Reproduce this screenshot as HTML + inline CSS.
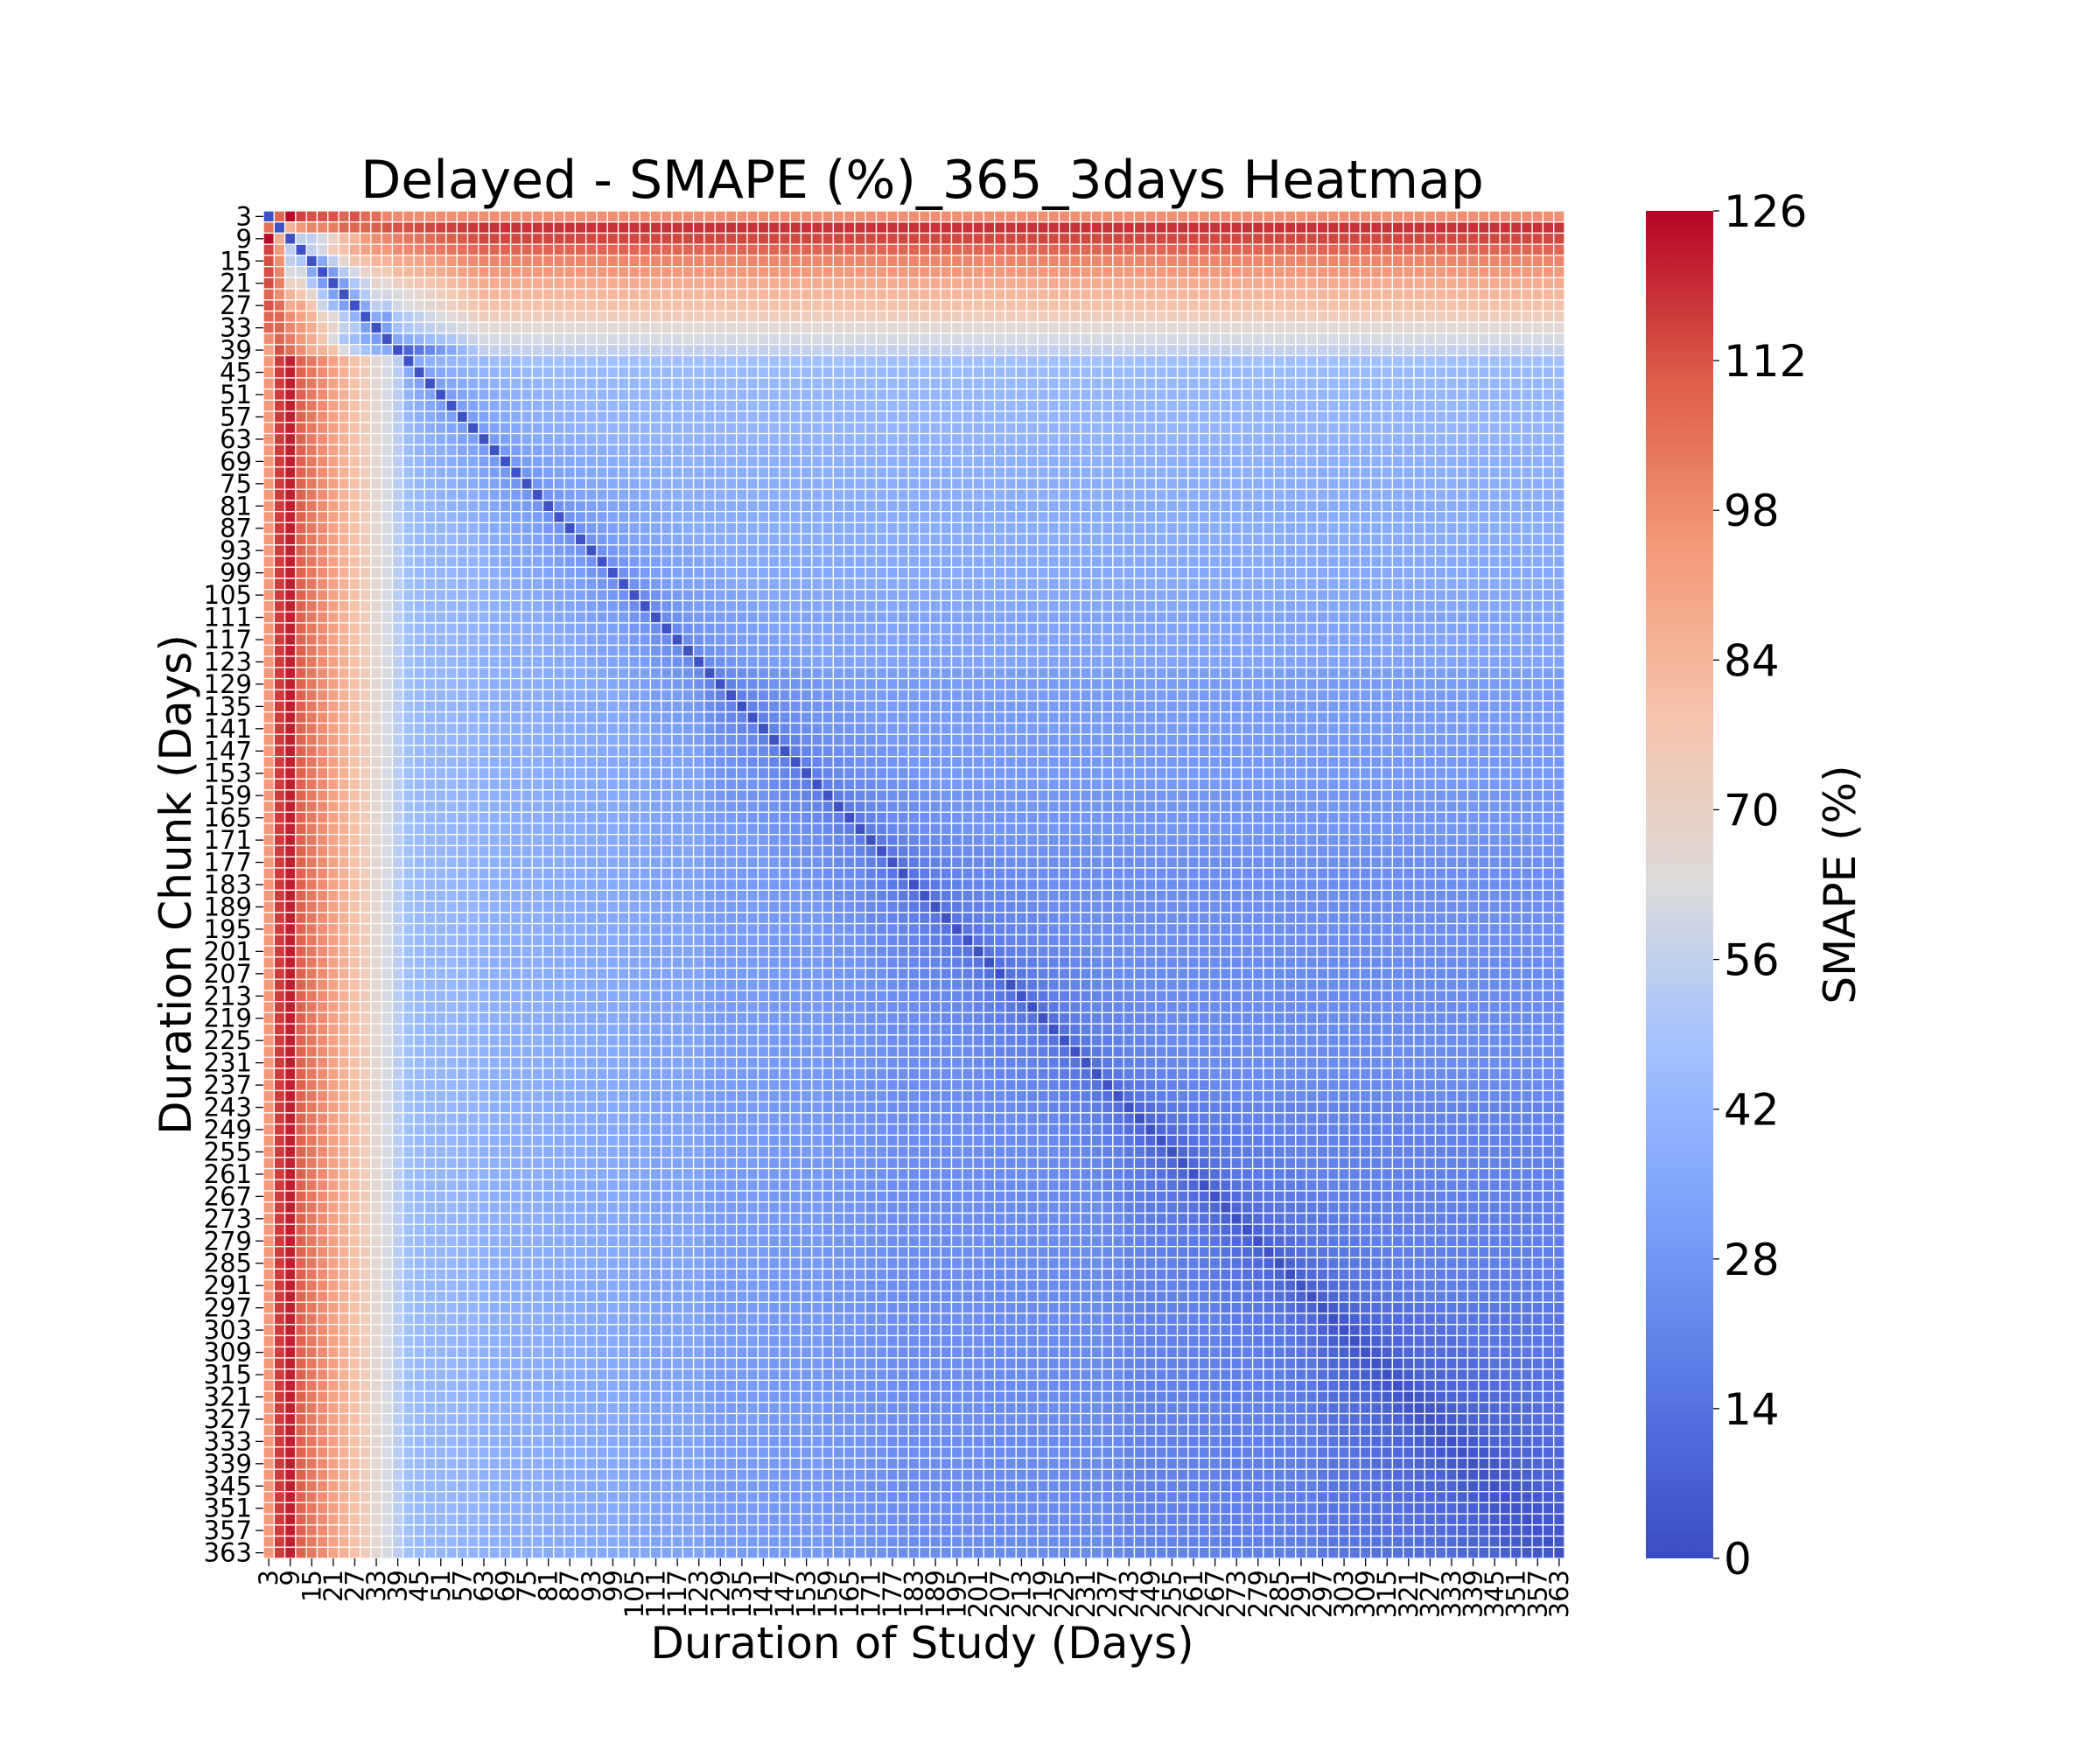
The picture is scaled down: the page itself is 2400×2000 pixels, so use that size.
<!DOCTYPE html>
<html><head><meta charset="utf-8"><style>
html,body{margin:0;padding:0;background:#fff}
svg{display:block;font-family:"DejaVu Sans","Liberation Sans",sans-serif}
</style></head><body>
<svg id="chart" width="2400" height="2000" viewBox="0 0 2400 2000" xmlns="http://www.w3.org/2000/svg">
<defs><linearGradient id="cbg" x1="0" y1="1" x2="0" y2="0"></linearGradient></defs>
<rect width="2400" height="2000" fill="#fff"/>
<text x="1054" y="226" font-size="60" text-anchor="middle">Delayed - SMAPE (%)_365_3days Heatmap</text>
<g id="cells"></g>
<g id="ticks"></g>
<text x="1054" y="1895" font-size="50" text-anchor="middle">Duration of Study (Days)</text>
<text transform="translate(218,1011) rotate(-90)" font-size="50" text-anchor="middle">Duration Chunk (Days)</text>
<rect x="1881" y="241" width="77" height="1540" fill="url(#cbg)"/>
<g id="cbticks"></g>
<text transform="translate(2120,1011) rotate(-90)" font-size="50" text-anchor="middle">SMAPE (%)</text>
</svg>
<script>
// ---- data ----
const days = [];
for (let d = 3; d <= 363; d += 3) days.push(d);
const diagValue = 2;
// top-left 13x13 block (rows 3..39, cols 3..39)
const topLeftBlock = [
[2,108,125,115,112,112,112,108,112,106,106,100,98],
[105,2,85,95,100,100,102,108,108,108,110,112,112],
[125,88,2,55,55,60,70,82,85,95,98,100,102],
[115,95,55,2,55,60,75,80,88,92,95,95,98],
[113,98,55,50,2,35,55,68,78,80,85,85,88],
[113,100,62,60,35,2,30,52,60,70,75,75,82],
[113,102,70,70,50,30,2,32,50,58,68,65,72],
[108,98,85,78,68,50,32,2,38,52,60,60,62],
[112,106,88,90,78,58,45,32,2,36,55,52,60],
[108,108,98,92,85,70,65,52,40,2,36,32,50],
[108,108,100,95,88,78,70,56,52,32,2,32,48],
[98,108,102,95,88,78,62,50,45,36,30,2,35],
[92,112,105,98,88,85,80,62,55,48,40,36,2]
];
// far-right values of the top 13 rows
const topRowFar = [97,118,114,108,100,95,88,84,80,74,66,61,56];
// left 13 columns for rows >= 42
const leftCols = [95,116,121,109,103,98,92,86,80,74,67,61,54];
// body level indexed by min(row, col) index (121 entries)
const bodyLevel = [
0,0,0,0,0,0,0,0,0,0,0,0,0,
47,44,43,42,42,41,41,40,39,39,38,38,38,37,37,37,37,36,36,36,36,35,35,34,34,34,34,34,
31,30,30,30,30,30,29,29,29,29,29,28,28,28,28,
26,26,25,25,25,25,25,25,25,25,25,24,24,24,24,24,24,24,24,24,24,24,23,23,
21,21,20,20,20,20,20,20,20,19,19,19,19,19,19,19,18,18,
16,15,15,15,15,14,14,14,14,13,13,13,13,12,12,12,12,11,11,11,11,11,11
];
// darkening near diagonal by offset
const diagDip = [0,10,8,6,5,4,3,3,2,2,1];
const cbTicks = [0,14,28,42,56,70,84,98,112,126];
const vmin = 0, vmax = 126;

// ---- layout ----
const X0 = 301, X1 = 1788, Y0 = 241, Y1 = 1781;
const n = days.length;
const cw = (X1 - X0) / n, ch = (Y1 - Y0) / n;
const xPos = i => X0 + i * cw;
const yPos = i => Y0 + i * ch;
const cbY = v => Y1 - (v - vmin) / (vmax - vmin) * (Y1 - Y0);

const cmapStops = [
[0.0,[58,76,193]],[0.125,[89,119,227]],[0.25,[123,159,249]],[0.375,[162,193,255]],
[0.5,[221,220,220]],[0.625,[245,196,172]],[0.75,[244,154,123]],[0.875,[220,93,74]],[1.0,[180,4,38]]];
function cmap(t){
  t = Math.max(0, Math.min(1, t));
  for (let k = 1; k < cmapStops.length; k++){
    const [t1,c1] = cmapStops[k], [t0,c0] = cmapStops[k-1];
    if (t <= t1){
      const f = (t - t0) / (t1 - t0);
      return 'rgb(' + c0.map((c,m)=>Math.round(c + (c1[m]-c)*f)).join(',') + ')';
    }
  }
  return 'rgb(180,4,38)';
}
function value(i, j){
  if (i === j) return diagValue;
  if (i < 13 && j < 13) return topLeftBlock[i][j];
  if (i < 13){
    const a = topLeftBlock[i][12], f = Math.min(1, (j - 12) / 8);
    return a + (topRowFar[i] - a) * f;
  }
  if (j < 13) return leftCols[j];
  const d = Math.abs(i - j);
  const dip = d < diagDip.length ? diagDip[d] : 0;
  const lv = bodyLevel[Math.min(i, j)];
  return Math.max(4, (lv === undefined ? 11 : lv) - dip);
}

const NS = 'http://www.w3.org/2000/svg';
const cells = document.getElementById('cells');
for (let i = 0; i < n; i++){
  for (let j = 0; j < n; j++){
    const r = document.createElementNS(NS, 'rect');
    r.setAttribute('x', xPos(j).toFixed(2));
    r.setAttribute('y', yPos(i).toFixed(2));
    r.setAttribute('width', cw.toFixed(2));
    r.setAttribute('height', ch.toFixed(2));
    r.setAttribute('fill', cmap((value(i, j) - vmin) / (vmax - vmin)));
    r.setAttribute('stroke', '#fff');
    r.setAttribute('stroke-width', '1.3');
    
    
    cells.appendChild(r);
  }
}
const ticks = document.getElementById('ticks');
for (let i = 0; i < n; i += 2){
  const cy = yPos(i) + ch / 2, cx = xPos(i) + cw / 2;
  const yl = document.createElementNS(NS, 'line');
  yl.setAttribute('x1', X0 - 9); yl.setAttribute('x2', X0); yl.setAttribute('y1', cy); yl.setAttribute('y2', cy);
  yl.setAttribute('stroke', '#000'); yl.setAttribute('stroke-width', '1.3');
  
  
  ticks.appendChild(yl);
  const yt = document.createElementNS(NS, 'text');
  yt.setAttribute('x', X0 - 13); yt.setAttribute('y', cy + 10);
  yt.setAttribute('font-size', '29'); yt.setAttribute('text-anchor', 'end');
  yt.textContent = days[i];
  
  
  ticks.appendChild(yt);
  const xl = document.createElementNS(NS, 'line');
  xl.setAttribute('x1', cx); xl.setAttribute('x2', cx); xl.setAttribute('y1', Y1); xl.setAttribute('y2', Y1 + 9);
  xl.setAttribute('stroke', '#000'); xl.setAttribute('stroke-width', '1.3');
  
  
  ticks.appendChild(xl);
  const xt = document.createElementNS(NS, 'text');
  xt.setAttribute('transform', 'translate(' + (cx + 10) + ',' + (Y1 + 13) + ') rotate(-90)');
  xt.setAttribute('font-size', '29'); xt.setAttribute('text-anchor', 'end');
  xt.textContent = days[i];
  
  
  ticks.appendChild(xt);
}
const grad = document.getElementById('cbg');
for (let k = 0; k <= 40; k++){
  const s = document.createElementNS(NS, 'stop');
  s.setAttribute('offset', (k / 40).toFixed(3));
  s.setAttribute('stop-color', cmap(k / 40));
  grad.appendChild(s);
}
const cbt = document.getElementById('cbticks');
cbTicks.forEach(v => {
  const y = cbY(v);
  const l = document.createElementNS(NS, 'line');
  l.setAttribute('x1', 1958); l.setAttribute('x2', 1965); l.setAttribute('y1', y); l.setAttribute('y2', y);
  l.setAttribute('stroke', '#000'); l.setAttribute('stroke-width', '1.3');
  
  
  cbt.appendChild(l);
  const t = document.createElementNS(NS, 'text');
  t.setAttribute('x', 1970); t.setAttribute('y', y + 18);
  t.setAttribute('font-size', '50');
  t.textContent = v;
  
  
  cbt.appendChild(t);
});
</script>
</body></html>
